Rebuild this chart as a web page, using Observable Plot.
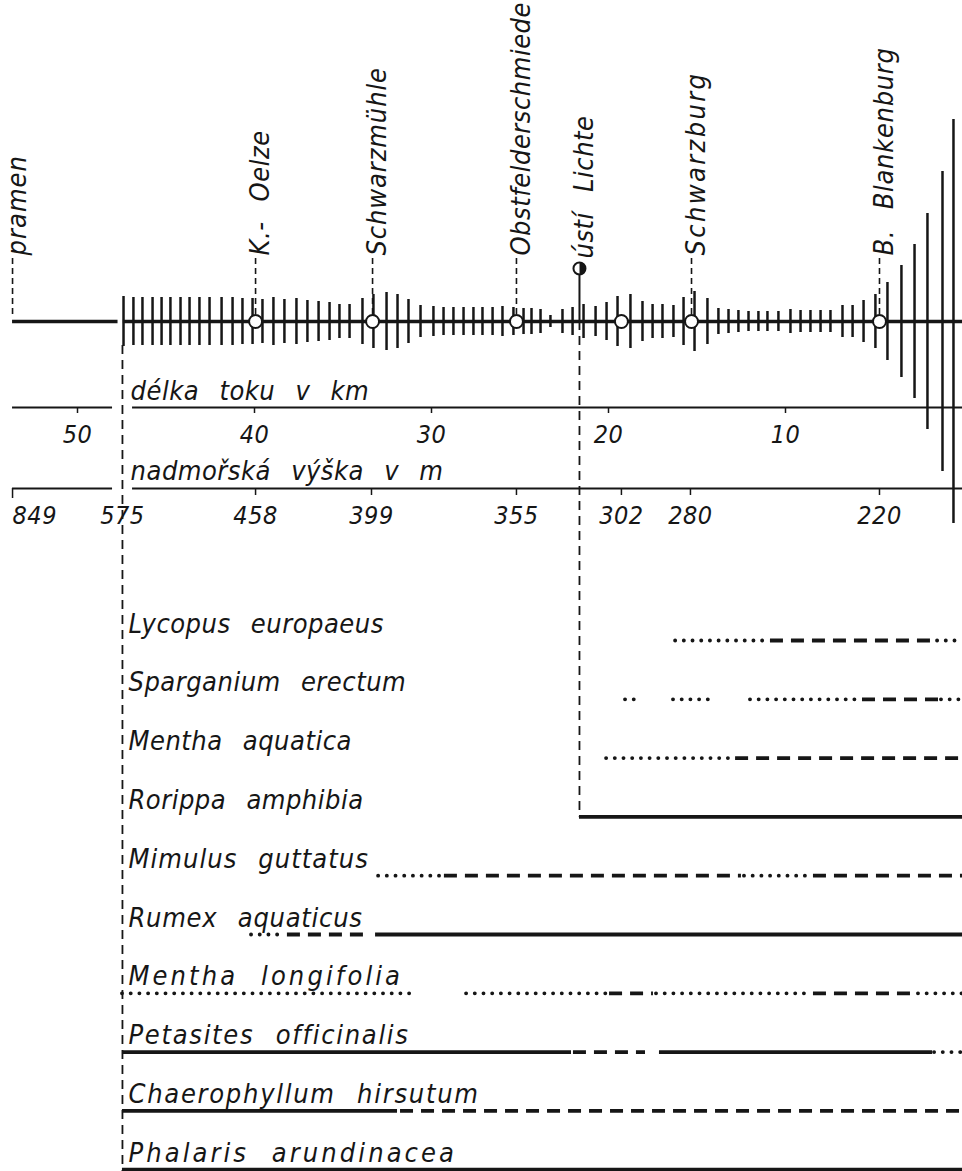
<!DOCTYPE html>
<html><head><meta charset="utf-8">
<script src="https://cdn.jsdelivr.net/npm/d3@7"></script>
<script src="https://cdn.jsdelivr.net/npm/@observablehq/plot@0.6"></script>
<style>body{margin:0;background:#fff}</style>
</head><body><div id="chart"></div>
<script>
// ---- data (x positions in km from the mouth) ----
const sourceKm = 53.67;   // pramen
const breakKm = 47.46;    // break of the profile (575 m)
const kmTicks = [50, 40, 30, 20, 10];
const altLabels = ["849", "575", "458", "399", "355", "302", "280", "220"];
const altKm = [53.67, 47.46, 39.94, 33.39, 25.20, 19.27, 15.37, 4.69];
const altHasTick = [true, false, true, true, true, true, true, true];

const stationNames = ["pramen", "K.- Oelze", "Schwarzmühle", "Obstfelderschmiede", "Schwarzburg", "B. Blankenburg"];
const stationKm = [53.67, 39.94, 33.33, 25.20, 15.31, 4.69];
const circleKm = [39.94, 33.33, 25.20, 19.27, 15.31, 4.69];
const lichteName = "ústí Lichte";
const lichteKm = 21.64;

// profile bars: position (km) and half-length (relative discharge)
const barKm = [47.40,46.84,46.33,45.76,45.25,44.75,44.18,43.67,43.11,42.54,41.86,41.24,40.68,40.11,39.55,38.93,38.31,37.63,37.01,36.38,35.76,35.20,34.63,33.90,33.28,32.54,31.92,31.30,30.62,29.89,29.32,28.76,28.19,27.63,27.12,26.55,25.99,25.37,24.80,24.35,23.84,23.28,22.60,22.03,21.41,20.73,20.11,19.49,18.76,18.08,17.51,16.95,16.33,15.76,15.14,14.41,13.79,13.22,12.66,12.09,11.53,11.02,10.40,9.72,9.15,8.59,8.02,7.46,6.78,6.21,5.59,4.92,4.24,3.45,2.71,1.98,1.13,0.51];
const barFlow = [25,24,24,24,24,24,24,24,24,24,24,24,23,23,22,24,22,23,21,20,19,17,17,23,27,29,27,22,16,15,14,14,14,14,14,14,15,14,13,13,12,6,12,14,17,15,19,25,27,20,17,17,16,24,30,23,13,12,11,10,10,10,10,12,11,11,11,11,16,16,21,27,39,56,77,108,150,202];

const species = ["Lycopus europaeus", "Sparganium erectum", "Mentha aquatica", "Rorippa amphibia", "Mimulus guttatus", "Rumex aquaticus", "Mentha longifolia", "Petasites officinalis", "Chaerophyllum hirsutum", "Phalaris arundinacea"];
// segments: [species index, from km, to km, style]
const segSpecies = [0,0,0, 1,1,1,1,1, 2,2, 3, 4,4,4,4, 5,5,5, 6,6,6,6,6,6, 7,7,7,7, 8,8, 9];
const segFrom = [16.21,10.85,1.41, 19.04,16.33,11.98,5.65,1.19, 20.11,12.82, 21.64, 32.99,29.27,12.32,8.42, 40.17,38.14,33.16, 47.46,28.02,19.94,17.29,8.42,2.49, 47.46,21.98,17.12,1.58, 47.46,31.75, 47.46];
const segTo = [10.85,1.53,0, 18.36,14.24,5.76,1.19,0, 12.82,0, 0, 29.44,12.49,8.59,0, 38.31,33.45,0, 30.79,20.06,17.46,8.59,2.66,0, 22.09,17.91,1.69,0, 31.92,0, 0];
const segStyle = ["dot","dash","dot", "dot","dot","dot","dash","dot", "dot","dash", "solid", "dot","dash","dot","dash", "dot","dash","solid", "dot","dot","dash","dot","dash","dot", "solid","dash","solid","dot", "solid","dash", "solid"];

// ---- layout (not data) ----
const W = 962, H = 1171;
const RIVER = 321, KM_AXIS = 407, ALT_AXIS = 488, LABEL_BASE = 255;
const ROW0 = 640, ROW_STEP = 58.8;
const rowY = i => ROW0 + i * ROW_STEP;
const FS = 25, FS_LBL = 27;
// rendered text lengths of the hand lettering (px)
const textLengths = {
  "Lycopus europaeus": 230, "Sparganium erectum": 262, "Mentha aquatica": 210, "Rorippa amphibia": 227,
  "Mimulus guttatus": 240, "Rumex aquaticus": 234, "Mentha longifolia": 272, "Petasites officinalis": 280,
  "Chaerophyllum hirsutum": 350, "Phalaris arundinacea": 326,
  "pramen": 100, "K.- Oelze": 102, "Schwarzmühle": 188, "Obstfelderschmiede": 248, "Schwarzburg": 182,
  "B. Blankenburg": 208, "ústí Lichte": 140, "délka toku v km": 236, "nadmořská výška v m": 302
};

const bars = barKm.map((km, i) => ({km, flow: barFlow[i]}));
const stations = stationNames.map((name, i) => ({name, km: stationKm[i]}));
const alts = altLabels.map((t, i) => ({t, km: altKm[i], tick: altHasTick[i], first: i === 0}));
const segs = segFrom.map((f, i) => ({row: segSpecies[i], from: f, to: segTo[i], style: segStyle[i]}));

const halfCircle = {draw(ctx, size) { const r = Math.sqrt(size / Math.PI); ctx.moveTo(0, -r); ctx.arc(0, 0, r, -Math.PI / 2, Math.PI / 2); ctx.closePath(); }};

const ink = "#161616";
const chart = Plot.plot({
  width: W, height: H,
  margin: 0,
  x: {domain: [W / 17.7, 0], range: [0, W], axis: null},
  y: {domain: [0, H], range: [0, H], axis: null},
  style: {fontFamily: "'Liberation Sans Narrow', 'DejaVu Sans Condensed', 'Liberation Sans', sans-serif", fontStyle: "italic", letterSpacing: "0.5px", wordSpacing: "12px", color: ink, background: "white"},
  marks: [
    // river line
    Plot.ruleY([RIVER], {x1: sourceKm, x2: breakKm + 0.25, stroke: ink, strokeWidth: 3.6}),
    Plot.ruleY([RIVER], {x1: breakKm - 0.05, x2: 0, stroke: ink, strokeWidth: 3.6}),
    // profile bars
    Plot.ruleX(bars, {x: "km", y1: d => RIVER - d.flow, y2: d => RIVER + d.flow, stroke: ink, strokeWidth: 2.5}),
    // break dashed line
    Plot.ruleX([breakKm], {y1: RIVER + 24, y2: H, stroke: ink, strokeWidth: 1.8, strokeDasharray: "9 6"}),
    // station leaders
    Plot.ruleX(stations, {x: "km", y1: LABEL_BASE + 3, y2: RIVER - 7, stroke: ink, strokeWidth: 1.6, strokeDasharray: "6 4"}),
    Plot.dot(circleKm, {x: d => d, y: RIVER, r: 6.5, fill: "white", stroke: ink, strokeWidth: 2}),
    Plot.text(stations, {x: "km", y: LABEL_BASE, text: "name", rotate: -90, textAnchor: "start", lineAnchor: "middle", dx: 5, fontSize: FS_LBL, fill: ink}),
    // ústí Lichte
    Plot.ruleX([lichteKm], {y1: LABEL_BASE + 19, y2: RIVER, stroke: ink, strokeWidth: 2}),
    Plot.ruleX([lichteKm], {y1: RIVER, y2: rowY(3), stroke: ink, strokeWidth: 1.8, strokeDasharray: "9 6"}),
    Plot.dot([lichteKm], {x: d => d, y: LABEL_BASE + 13, r: 6, fill: "white", stroke: ink, strokeWidth: 2}),
    Plot.dot([lichteKm], {x: d => d, y: LABEL_BASE + 13, r: 6, symbol: halfCircle, fill: ink}),
    Plot.text([lichteName], {x: lichteKm, y: LABEL_BASE + 3, text: d => d, rotate: -90, textAnchor: "start", lineAnchor: "middle", dx: 5, fontSize: FS_LBL, fill: ink}),
    // km axis
    Plot.ruleY([KM_AXIS], {x1: sourceKm, x2: 48.02, stroke: ink, strokeWidth: 2}),
    Plot.ruleY([KM_AXIS], {x1: 46.89, x2: 0, stroke: ink, strokeWidth: 2}),
    Plot.ruleX(kmTicks, {x: d => d, y1: KM_AXIS, y2: KM_AXIS + 6, stroke: ink, strokeWidth: 1.5}),
    Plot.text(kmTicks, {x: d => d, y: KM_AXIS + 27, text: d => String(d), fontSize: FS, fill: ink}),
    Plot.text(["délka toku v km"], {x: 47.0, y: KM_AXIS - 8, text: d => d, textAnchor: "start", lineAnchor: "bottom", fontSize: FS_LBL, fill: ink}),
    // altitude axis
    Plot.ruleY([ALT_AXIS], {x1: sourceKm, x2: 48.02, stroke: ink, strokeWidth: 2}),
    Plot.ruleY([ALT_AXIS], {x1: 46.89, x2: 0, stroke: ink, strokeWidth: 2}),
    Plot.ruleX(alts.filter(d => d.tick), {x: "km", y1: ALT_AXIS, y2: d => ALT_AXIS + (d.first ? 10 : 7), stroke: ink, strokeWidth: 1.5}),
    Plot.text(alts.filter(d => !d.first), {x: "km", y: ALT_AXIS + 27, text: "t", fontSize: FS, fill: ink}),
    Plot.text(alts.filter(d => d.first), {x: "km", y: ALT_AXIS + 27, text: "t", textAnchor: "start", fontSize: FS, fill: ink}),
    Plot.text(["nadmořská výška v m"], {x: 47.0, y: ALT_AXIS - 9, text: d => d, textAnchor: "start", lineAnchor: "bottom", fontSize: FS_LBL, fill: ink}),
    // species labels
    Plot.text(species, {x: 47.12, y: (d, i) => rowY(i) - 8, text: d => d, textAnchor: "start", lineAnchor: "bottom", fontSize: FS_LBL, fill: ink}),
    // species segments
    Plot.ruleY(segs.filter(d => d.style === "solid"), {y: d => rowY(d.row), x1: "from", x2: "to", stroke: ink, strokeWidth: 3.8}),
    Plot.ruleY(segs.filter(d => d.style === "dash"), {y: d => rowY(d.row), x1: "from", x2: "to", stroke: ink, strokeWidth: 3.8, strokeDasharray: "13 8"}),
    Plot.ruleY(segs.filter(d => d.style === "dot"), {y: d => rowY(d.row), x1: "from", x2: "to", stroke: ink, strokeWidth: 3.8, strokeLinecap: "round", strokeDasharray: "0.1 8.6"})
  ]
});
document.getElementById("chart").appendChild(chart);
// stretch (never squeeze) the lettering to the widths of the original hand lettering
d3.select(chart).selectAll("text").each(function () {
  const L = textLengths[this.textContent];
  if (L && this.getComputedTextLength() < L) { this.setAttribute("textLength", L); this.setAttribute("lengthAdjust", "spacing"); }
});
</script></body></html>
